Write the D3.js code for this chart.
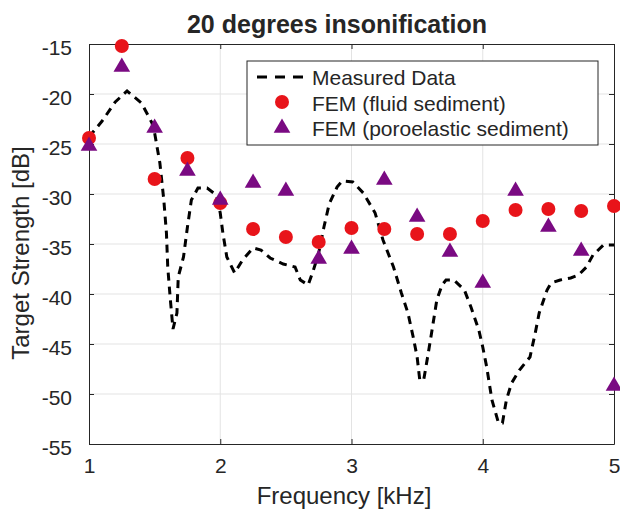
<!DOCTYPE html>
<html>
<head>
<meta charset="utf-8">
<script src="https://cdn.jsdelivr.net/npm/d3@7"></script>
<style>
  body { margin: 0; background: #fff; }
  text { font-family: "Liberation Sans", Arial, sans-serif; fill: #262626; }
</style>
</head>
<body>
<div id="chart"></div>
<script>
// FEM frequencies (kHz)
var freqs = [1, 1.25, 1.5, 1.75, 2, 2.25, 2.5, 2.75, 3, 3.25, 3.5, 3.75, 4, 4.25, 4.5, 4.75, 5];
var fluidTS = [-24.4, -15.2, -28.5, -26.4, -30.9, -33.5, -34.3, -34.8, -33.4, -33.5, -34.0, -34.0, -32.7, -31.6, -31.5, -31.7, -31.2];
var poroTS = [-25.2, -17.3, -23.4, -27.7, -30.6, -28.9, -29.7, -36.5, -35.5, -28.6, -32.3, -35.8, -38.9, -29.7, -33.3, -35.7, -49.2];

// measured curve
var measFreq = [1.0, 1.1, 1.2, 1.29, 1.4, 1.48, 1.5, 1.54, 1.57, 1.59, 1.6, 1.62, 1.64, 1.67, 1.68, 1.72, 1.75, 1.78, 1.83, 1.9, 1.97,
  2.0, 2.02, 2.05, 2.11, 2.17, 2.25, 2.31, 2.38, 2.48, 2.57, 2.61, 2.67, 2.71, 2.75, 2.79, 2.83, 2.89, 2.93, 3.01, 3.09, 3.18,
  3.24, 3.32, 3.38, 3.43, 3.47, 3.5, 3.52, 3.55, 3.58, 3.61, 3.65, 3.69, 3.72, 3.78, 3.86, 3.91, 3.97, 4.0, 4.03, 4.07, 4.12,
  4.15, 4.18, 4.22, 4.28, 4.36, 4.4, 4.43, 4.49, 4.52, 4.59, 4.67, 4.73, 4.79, 4.84, 4.92, 5.0];
var measTS = [-24.3, -22.7, -20.8, -19.7, -20.9, -22.9, -23.9, -26.9, -30.6, -33.9, -37.3, -40.6, -43.5, -41.9, -38.3, -36.3, -33.3, -30.6, -29.4, -29.4, -30.1,
  -31.9, -33.9, -36.3, -37.9, -36.6, -35.4, -35.6, -36.4, -37.0, -37.3, -38.6, -39.1, -37.6, -35.9, -33.3, -31.0, -29.3, -28.7, -28.8, -29.9, -31.9,
  -34.6, -37.3, -39.9, -41.9, -44.3, -46.3, -48.6, -48.6, -46.3, -43.9, -40.6, -39.1, -38.6, -38.6, -39.6, -41.3, -43.6, -45.3, -47.3, -50.6, -52.9,
  -52.9, -50.6, -48.9, -47.6, -46.3, -43.9, -41.9, -39.6, -38.9, -38.6, -38.4, -38.1, -37.3, -36.1, -35.1, -35.1];

var xTicks = [1, 2, 3, 4, 5];
var yTicks = [-55, -50, -45, -40, -35, -30, -25, -20, -15];
var legendLabels = ["Measured Data", "FEM (fluid sediment)", "FEM (poroelastic sediment)"];

var W = 620, H = 509;
var margin = {top: 44, right: 6, bottom: 65, left: 89};
var width = W - margin.left - margin.right,
    height = H - margin.top - margin.bottom;

var svg = d3.select("#chart").append("svg")
    .attr("width", W)
    .attr("height", H);

var g = svg.append("g")
    .attr("transform", "translate(" + margin.left + "," + margin.top + ")");

var x = d3.scaleLinear().domain([1, 5]).range([0, width]);
var y = d3.scaleLinear().domain([-55, -15]).range([height, 0]);

// grid
g.append("g").selectAll("line").data(xTicks.slice(1, -1)).enter().append("line")
    .attr("x1", function(d) { return x(d); }).attr("x2", function(d) { return x(d); })
    .attr("y1", 0).attr("y2", height)
    .attr("stroke", "#e3e3e3").attr("stroke-width", 1);
g.append("g").selectAll("line").data(yTicks.slice(1, -1)).enter().append("line")
    .attr("y1", function(d) { return y(d); }).attr("y2", function(d) { return y(d); })
    .attr("x1", 0).attr("x2", width)
    .attr("stroke", "#e3e3e3").attr("stroke-width", 1);

// axes (ticks inward, on all four sides)
var axisColor = "#262626";
var plain = function(d) { return String(d); };   // hyphen minus like matlab
function styleAxis(sel) {
  sel.select(".domain").attr("stroke", axisColor);
  sel.selectAll(".tick line").attr("stroke", axisColor);
  sel.selectAll(".tick text").style("font-size", "21px").attr("fill", axisColor);
}
g.append("g").attr("transform", "translate(0," + height + ")")
    .call(d3.axisBottom(x).tickValues(xTicks).tickFormat(plain).tickSizeInner(-5).tickSizeOuter(0).tickPadding(14))
    .call(styleAxis);
g.append("g")
    .call(d3.axisLeft(y).tickValues(yTicks).tickFormat(plain).tickSizeInner(-5).tickSizeOuter(0).tickPadding(17))
    .call(styleAxis)
    .selectAll(".tick text").attr("dy", "0.5em");
g.append("g")
    .call(d3.axisTop(x).tickValues(xTicks).tickSizeInner(-5).tickSizeOuter(0).tickFormat(""))
    .call(styleAxis);
g.append("g").attr("transform", "translate(" + width + ",0)")
    .call(d3.axisRight(y).tickValues(yTicks).tickSizeInner(-5).tickSizeOuter(0).tickFormat(""))
    .call(styleAxis);

// measured line
var meas = measFreq.map(function(f, i) { return [f, measTS[i]]; });
g.append("path")
    .datum(meas)
    .attr("fill", "none")
    .attr("stroke", "#000")
    .attr("stroke-width", 3)
    .attr("stroke-dasharray", "8,6")
    .attr("d", d3.line().x(function(d) { return x(d[0]); }).y(function(d) { return y(d[1]); }));

var red = "#e8141a", purple = "#7a0a82";
var tri = d3.symbol().type(d3.symbolTriangle).size(120);

g.append("g").selectAll("circle").data(freqs).enter().append("circle")
    .attr("cx", function(d) { return x(d); })
    .attr("cy", function(d, i) { return y(fluidTS[i]); })
    .attr("r", 7)
    .attr("fill", red);

g.append("g").selectAll("path").data(freqs).enter().append("path")
    .attr("d", tri)
    .attr("transform", function(d, i) { return "translate(" + x(d) + "," + y(poroTS[i]) + ")"; })
    .attr("fill", purple);

// legend
var lg = svg.append("g").attr("transform", "translate(247,61)");
lg.append("rect").attr("width", 351).attr("height", 84)
    .attr("fill", "#fff").attr("stroke", "#262626").attr("stroke-width", 1);
lg.append("line").attr("x1", 10).attr("x2", 57).attr("y1", 16).attr("y2", 16)
    .attr("stroke", "#000").attr("stroke-width", 3).attr("stroke-dasharray", "10,8");
lg.append("circle").attr("cx", 35).attr("cy", 41).attr("r", 7).attr("fill", red);
lg.append("path").attr("d", tri).attr("transform", "translate(35,67)").attr("fill", purple);
lg.selectAll("text.lab").data(legendLabels).enter().append("text")
    .attr("class", "lab")
    .attr("x", 65)
    .attr("y", function(d, i) { return 24 + i * 25.5; })
    .style("font-size", "21px")
    .attr("fill", "#000")
    .text(function(d) { return d; });

// titles
svg.append("text")
    .attr("x", 337).attr("y", 33)
    .attr("text-anchor", "middle")
    .style("font-size", "25px").style("font-weight", "bold")
    .attr("fill", "#000")
    .text("20 degrees insonification");
svg.append("text")
    .attr("x", 344).attr("y", 504)
    .attr("text-anchor", "middle")
    .style("font-size", "24px")
    .text("Frequency [kHz]");
svg.append("text")
    .attr("transform", "translate(29,253) rotate(-90)")
    .attr("text-anchor", "middle")
    .style("font-size", "24px")
    .text("Target Strength [dB]");
</script>
</body>
</html>
